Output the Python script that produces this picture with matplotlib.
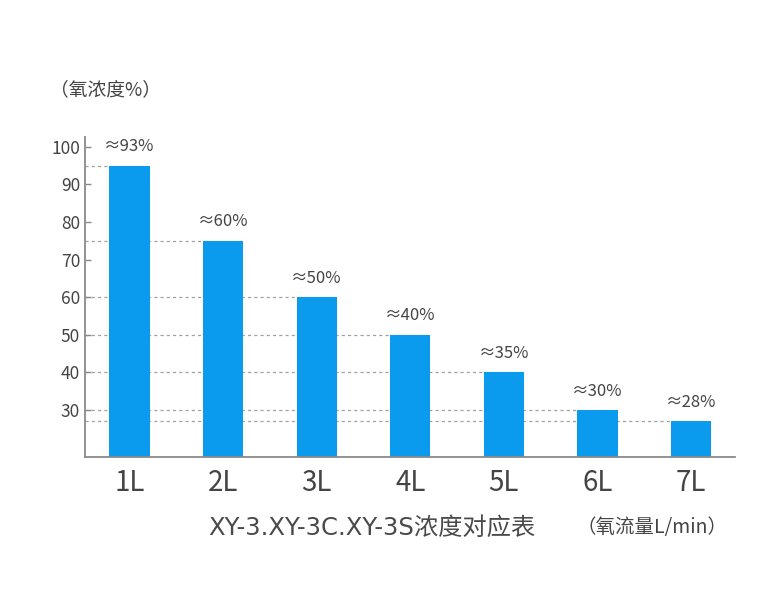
import matplotlib
matplotlib.use("Agg")
import matplotlib.pyplot as plt

plt.rcParams['font.family'] = ['Noto Sans CJK SC', 'DejaVu Sans']

categories = ["1L", "2L", "3L", "4L", "5L", "6L", "7L"]
bar_heights = [95, 75, 60, 50, 40, 30, 27]
value_labels = ["≈93%", "≈60%", "≈50%", "≈40%", "≈35%", "≈30%", "≈28%"]
y_ticks = [30, 40, 50, 60, 70, 80, 90, 100]

BLUE = "#0A9BEF"
TEXT = "#444444"
AXIS = "#8a8a8a"
GRID = "#a0a0a0"

fig = plt.figure(figsize=(7.6, 5.98), dpi=100)
ax = fig.add_axes([85/760, (598-457)/598, (735-85)/760, (457-137)/598])

x = list(range(len(categories)))
w = 0.43
xmin, xmax = -0.475, 6.47

for i, h in zip(x, bar_heights):
    ax.plot([xmin, i - w/2], [h, h], color=GRID, lw=0.9, ls=(0, (2.5, 2.5)), zorder=1)

ax.bar(x, bar_heights, width=w, color=BLUE, zorder=2)

for i, h, lab in zip(x, bar_heights, value_labels):
    ax.annotate(lab, (i, h), xytext=(0, 7.5), textcoords="offset points",
                ha="center", va="bottom", fontsize=12, color=TEXT, fontweight="light")

ax.set_xlim(xmin, xmax)
ax.set_ylim(17.5, 102.6)
ax.set_xticks(x)
ax.set_xticklabels(categories, fontsize=20, color=TEXT, fontweight="light")
ax.set_yticks(y_ticks)
ax.set_yticklabels([str(v) for v in y_ticks], fontsize=12.5, color=TEXT, fontweight="light")
ax.tick_params(axis="y", direction="in", length=4, width=1, color=AXIS, pad=3.5)
ax.tick_params(axis="x", length=0, pad=8)

for s in ["top", "right"]:
    ax.spines[s].set_visible(False)
for s in ["left", "bottom"]:
    ax.spines[s].set_color(AXIS)
    ax.spines[s].set_linewidth(1.3)

fig.text(50/760, 1 - 90/598, "（氧浓度%）", fontsize=13.5, color=TEXT, ha="left", va="center",
         fontweight="light")
fig.text(372/760, 1 - 528/598, "XY-3.XY-3C.XY-3S浓度对应表", fontsize=17.5, color="#4a4a4a",
         ha="center", va="center", family=["DejaVu Sans", "Noto Sans CJK SC"])
fig.text(652/760, 1 - 528/598, "（氧流量L/min）", fontsize=14, color=TEXT,
         ha="center", va="center", fontweight="light")

fig.savefig("out.png", dpi=100, facecolor="white")
